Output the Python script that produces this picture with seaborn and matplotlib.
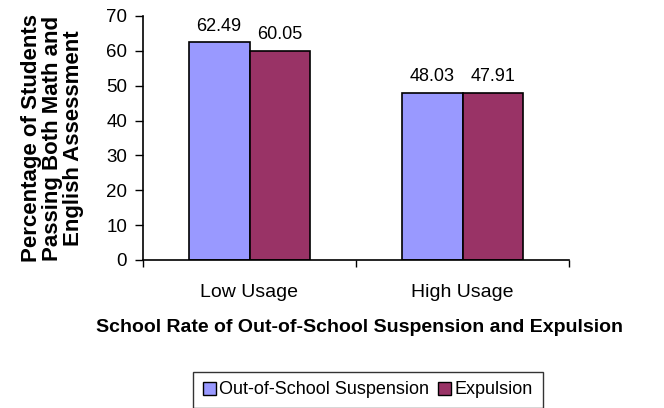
import pandas as pd
import numpy as np
import matplotlib
matplotlib.use("Agg")
import matplotlib.pyplot as plt
import seaborn as sns
from matplotlib.ticker import FixedLocator

categories = ["Low Usage", "High Usage"]
series = ["Out-of-School Suspension", "Expulsion"]
suspension = [62.49, 48.03]
expulsion = [60.05, 47.91]
colors = ["#9999FF", "#993366"]

df = pd.DataFrame({
    "Usage": categories * 2,
    "Discipline": [series[0]] * 2 + [series[1]] * 2,
    "Pct": suspension + expulsion,
})

sns.set_style("white")
plt.rcParams["font.family"] = ["Liberation Sans", "DejaVu Sans"]
plt.rcParams["text.color"] = "black"
plt.rcParams["xtick.color"] = "black"
plt.rcParams["ytick.color"] = "black"
plt.rcParams["axes.labelcolor"] = "black"

fig = plt.figure(figsize=(6.64, 4.08), dpi=100)
ax = fig.add_axes([143 / 664, 1 - 260 / 408, (569 - 143) / 664, (260 - 16) / 408])

sns.barplot(data=df, x="Usage", y="Pct", hue="Discipline", order=categories,
            hue_order=series, palette=colors, width=0.57, edgecolor="black",
            linewidth=1.2, saturation=1, ax=ax, legend=True)

# value labels above each bar
for cont in ax.containers:
    ax.bar_label(cont, fmt="%.2f", padding=5.5, fontsize=13)

ax.set_xlim(-0.5, 1.5)
ax.set_ylim(0, 70)
ax.set_yticks(range(0, 71, 10))
ax.tick_params(axis="y", labelsize=13.5, length=5.5, width=1, direction="out", left=True, pad=6)
ax.tick_params(axis="x", labelsize=14, length=0, pad=17)
# category separators on the x axis
ax.xaxis.set_minor_locator(FixedLocator([-0.5, 0.5, 1.5]))
ax.tick_params(axis="x", which="minor", length=5, width=1, direction="out", bottom=True)

for side in ["top", "right"]:
    ax.spines[side].set_visible(False)
for side in ["left", "bottom"]:
    ax.spines[side].set_color("black")
    ax.spines[side].set_linewidth(1.2)

ax.set_xlabel("")
ax.set_ylabel("Percentage of Students\nPassing Both Math and\nEnglish Assessment",
              fontsize=16, fontweight="bold", linespacing=1.0, labelpad=16)

fig.text(360 / 664, 1 - 328 / 408, "School Rate of Out-of-School Suspension and Expulsion",
         ha="center", va="center", fontsize=14, fontweight="bold")

ax.legend_.remove()
handles = [plt.Rectangle((0, 0), 1, 1, facecolor=c, edgecolor="black", linewidth=1) for c in colors]
fig.legend(handles, series, loc="center", bbox_to_anchor=(368 / 664, 1 - 390 / 408),
           ncol=2, fontsize=13, frameon=True, fancybox=False, edgecolor="black",
           handlelength=0.7, handleheight=0.7, handletextpad=0.2, columnspacing=0.5,
           borderpad=0.55, borderaxespad=0)

fig.savefig("out.png", dpi=100)
